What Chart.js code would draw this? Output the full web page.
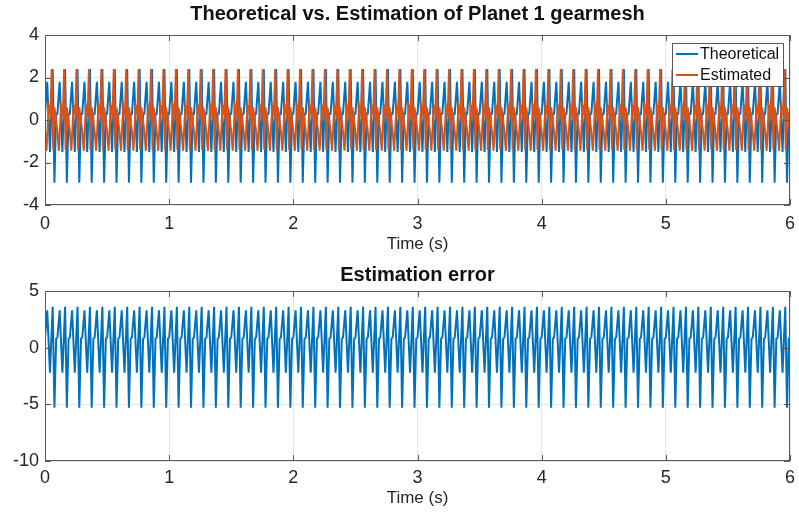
<!DOCTYPE html>
<html>
<head>
<meta charset="utf-8">
<script src="https://cdn.jsdelivr.net/npm/chart.js@4.4.1/dist/chart.umd.min.js"></script>
<style>
  body { margin: 0; background: #fff; }
  #wrap { position: relative; width: 799px; height: 516px; }
  canvas { position: absolute; left: 0; }
</style>
</head>
<body>
<div id="wrap">
  <canvas id="topChart" width="799" height="258" style="top:0"></canvas>
  <canvas id="bottomChart" width="799" height="258" style="top:258px"></canvas>
</div>
<script>
// One gearmesh cycle is 0.1 s long; the record holds 60 of them (0..6 s).
const cyclePeriod = 0.1;
const cycleCount = 60;

const theoreticalT = [0, 0.018, 0.040, 0.062, 0.076, 0.090];
const theoreticalV = [0.3, 1.8, -1.5, 2.4, -2.95, 0.3];
const estimatedT = [0, 0.012, 0.030, 0.044, 0.054, 0.066, 0.076];
const estimatedV = [-0.55, -1.45, 0.65, 0.3, 2.4, -1.4, 0.6];
const errorT = [0, 0.018, 0.040, 0.062, 0.076, 0.090];
const errorV = [0.9, 3.3, -2.2, 3.6, -5.3, 0.8];

const xTicks = [0, 1, 2, 3, 4, 5, 6];
const topYTicks = [-4, -2, 0, 2, 4];
const bottomYTicks = [-10, -5, 0, 5];

const BLUE = '#0072BD';
const ORANGE = '#D95319';
const FONT = '"Liberation Sans", Arial, sans-serif';

function repeatCycle(tArr, vArr) {
  var pts = [];
  for (var k = 0; k < cycleCount; k++) {
    for (var i = 0; i < tArr.length; i++) {
      pts.push({ x: +(k * cyclePeriod + tArr[i]).toFixed(4), y: vArr[i] });
    }
  }
  pts.push({ x: 6, y: vArr[0] });
  return pts;
}

// box, inward ticks, title and (optional) legend, MATLAB style
const axesBox = {
  id: 'axesBox',
  beforeDraw(chart) {
    const ctx = chart.ctx;
    ctx.save();
    ctx.fillStyle = '#fff';
    ctx.fillRect(0, 0, chart.width, chart.height);
    ctx.restore();
  },
  afterDatasetsDraw(chart, args, opts) {
    const ctx = chart.ctx;
    const a = chart.chartArea;
    const xs = chart.scales.x, ys = chart.scales.y;
    ctx.save();
    ctx.strokeStyle = '#5e5752';
    ctx.lineWidth = 1;
    ctx.strokeRect(Math.round(a.left) + 0.5, Math.round(a.top) + 0.5,
                   Math.round(a.width) - 1, Math.round(a.height) - 1);
    ctx.beginPath();
    xs.ticks.forEach(function (t) {
      var px = Math.round(xs.getPixelForValue(t.value)) + 0.5;
      ctx.moveTo(px, a.bottom); ctx.lineTo(px, a.bottom - 6);
      ctx.moveTo(px, a.top); ctx.lineTo(px, a.top + 6);
    });
    ys.ticks.forEach(function (t) {
      var py = Math.round(ys.getPixelForValue(t.value)) + 0.5;
      ctx.moveTo(a.left, py); ctx.lineTo(a.left + 6, py);
      ctx.moveTo(a.right, py); ctx.lineTo(a.right - 6, py);
    });
    ctx.stroke();

    ctx.fillStyle = '#111';
    ctx.font = 'bold 20px ' + FONT;
    ctx.textAlign = 'center';
    ctx.textBaseline = 'middle';
    ctx.fillText(opts.title, (a.left + a.right) / 2, opts.titleY);

    if (opts.legend) {
      var L = opts.legend;
      ctx.fillStyle = '#fff';
      ctx.fillRect(L.x, L.y, L.w, L.h);
      ctx.strokeStyle = '#5e5752';
      ctx.strokeRect(L.x + 0.5, L.y + 0.5, L.w, L.h);
      ctx.font = '16px ' + FONT;
      ctx.textAlign = 'left';
      chart.data.datasets.forEach(function (ds, i) {
        var ly = L.y + 11 + i * 21;
        ctx.strokeStyle = ds.borderColor;
        ctx.lineWidth = 2;
        ctx.beginPath();
        ctx.moveTo(L.x + 4, ly); ctx.lineTo(L.x + 26, ly);
        ctx.stroke();
        ctx.fillStyle = '#111';
        ctx.fillText(ds.label, L.x + 28, ly + 1);
      });
    }
    ctx.restore();
  }
};

function makeOptions(cfg) {
  return {
    responsive: false,
    animation: false,
    events: [],
    layout: { padding: { left: 0, right: 9, top: cfg.padTop, bottom: 0 } },
    plugins: {
      legend: { display: false },
      tooltip: { enabled: false },
      axesBox: { title: cfg.title, titleY: cfg.titleY, legend: cfg.legend }
    },
    elements: { point: { radius: 0 }, line: { borderWidth: 2, tension: 0 } },
    scales: {
      x: {
        type: 'linear', min: 0, max: 6,
        afterFit: function (s) { s.height = cfg.xHeight; s.paddingLeft = 0; s.paddingRight = 0; },
        afterBuildTicks: function (s) { s.ticks = xTicks.map(function (v) { return { value: v }; }); },
        grid: { color: '#e8e8e8', drawTicks: false },
        border: { display: false },
        ticks: { color: '#262626', padding: cfg.xLabelPad, font: { family: FONT, size: 18 } },
        title: { display: true, text: 'Time (s)', color: '#262626',
                 padding: { top: 0, bottom: cfg.xTitlePad }, font: { family: FONT, size: 17 } }
      },
      y: {
        min: cfg.yTicks[0], max: cfg.yTicks[cfg.yTicks.length - 1],
        afterFit: function (s) { s.width = 45; },
        afterBuildTicks: function (s) { s.ticks = cfg.yTicks.map(function (v) { return { value: v }; }); },
        grid: { color: '#e8e8e8', drawTicks: false },
        border: { display: false },
        ticks: { color: '#262626', padding: 6, font: { family: FONT, size: 18 } }
      }
    }
  };
}

new Chart(document.getElementById('topChart'), {
  type: 'line',
  data: {
    datasets: [
      { label: 'Theoretical', data: repeatCycle(theoreticalT, theoreticalV), borderColor: BLUE, order: 2 },
      { label: 'Estimated', data: repeatCycle(estimatedT, estimatedV), borderColor: ORANGE, order: 1 }
    ]
  },
  options: makeOptions({
    padTop: 35, xHeight: 53, xLabelPad: 8, xTitlePad: 3,
    yTicks: topYTicks, title: 'Theoretical vs. Estimation of Planet 1 gearmesh', titleY: 14,
    legend: { x: 672, y: 43, w: 111, h: 43 }
  }),
  plugins: [axesBox]
});

new Chart(document.getElementById('bottomChart'), {
  type: 'line',
  data: {
    datasets: [
      { label: 'Error', data: repeatCycle(errorT, errorV), borderColor: BLUE }
    ]
  },
  options: makeOptions({
    padTop: 33, xHeight: 55, xLabelPad: 6, xTitlePad: 7,
    yTicks: bottomYTicks, title: 'Estimation error', titleY: 17
  }),
  plugins: [axesBox]
});
</script>
</body>
</html>
